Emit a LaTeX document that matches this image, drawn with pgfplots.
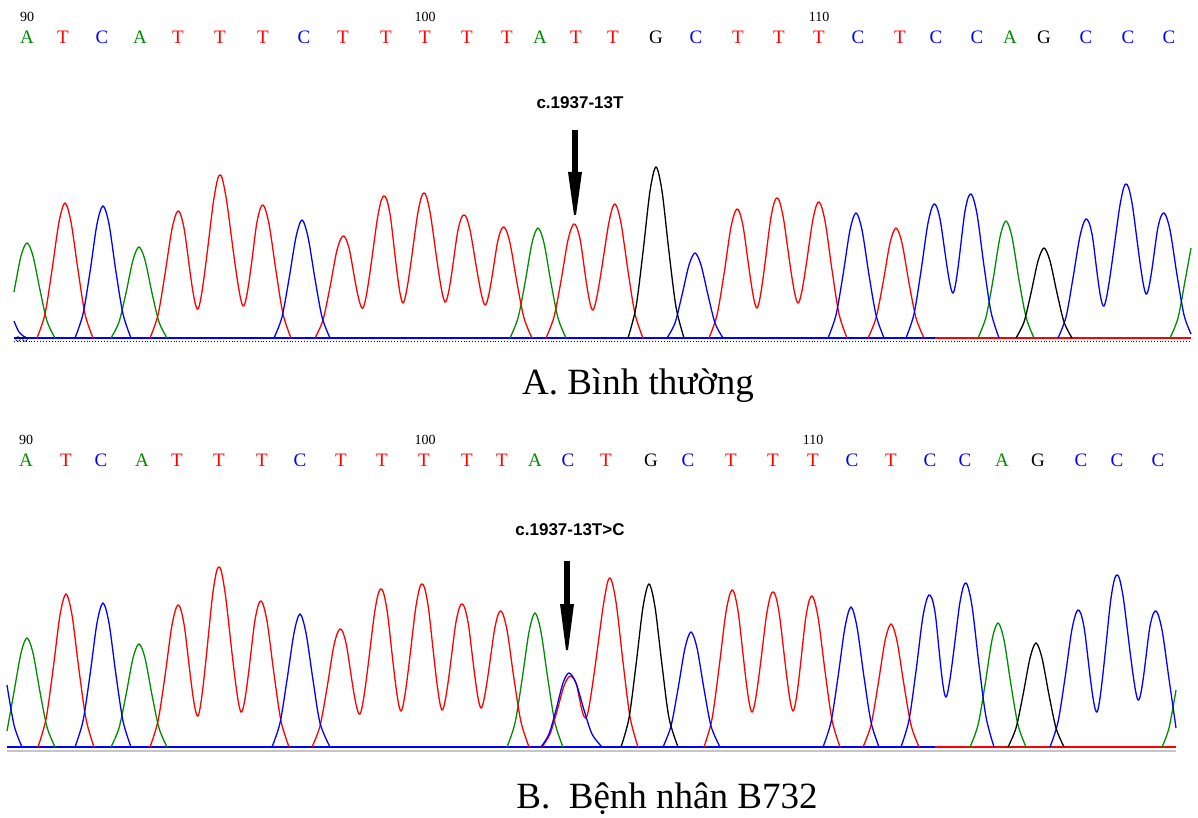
\documentclass[border=0pt]{standalone}
\usepackage{pgfplots}
\pgfplotsset{compat=1.18}
\usepackage{fontspec}
\setmainfont{Liberation Serif}
\newfontfamily\arialf{Liberation Sans}
\definecolor{cR}{RGB}{255,0,0}
\definecolor{cG}{RGB}{0,140,0}
\definecolor{cB}{RGB}{0,0,255}
\definecolor{cK}{RGB}{0,0,0}
\begin{document}
\begin{tikzpicture}
\begin{axis}[
  width=1198pt, height=818pt, scale only axis,
  xmin=0, xmax=1198, ymin=0, ymax=818, y dir=reverse,
  hide axis, clip=false,
  tr/.style={line width=1.3pt, mark=none},
]
\path (axis cs:0,0) rectangle (axis cs:1198,818);
% ---------- baselines (panel A) ----------
\addplot[cB, line width=1.3pt] coordinates {(14,338) (935,338)};
\addplot[cR, line width=1.3pt] coordinates {(935,338) (1191,338)};
\addplot[cB, line width=0.9pt, dotted] coordinates {(14,341) (1191,341)};
\addplot[only marks, mark=o, mark size=2.3pt, black, line width=0.6pt] coordinates {(18,339) (25,339)};
% ---------- panel A traces ----------
% green (A)
\addplot[smooth, tr, cG] coordinates {(14,292) (21,256) (27,243) (33,256) (40,290) (47,321) (55,338)};
\addplot[smooth, tr, cG] coordinates {(111,338) (119,322) (126,293) (133,260) (139,247) (145,260) (152,293) (159,322) (167,338)};
\addplot[smooth, tr, cG] coordinates {(510,338) (518,318) (525,283) (532,243) (538,228) (544,243) (551,283) (558,318) (566,338)};
\addplot[smooth, tr, cG] coordinates {(978,338) (986,317) (993,280) (1000,237) (1006,221) (1012,237) (1019,280) (1026,317) (1034,338)};
\addplot[smooth, tr, cG] coordinates {(1170,338) (1178,318) (1185,281) (1191,248)};
% red (T)
\addplot[smooth, tr, cR] coordinates {(37,338) (45,314) (52,270) (59,222) (65,203) (71,222) (78,270) (85,314) (93,338)};
\addplot[smooth, tr, cR] coordinates {(150,338) (158,315) (165,274) (172,229) (178,211) (184,228) (198,309) (214,198) (220,175) (226,197) (243,306) (257,222) (263,205) (269,224) (276,271) (283,314) (291,338)};
\addplot[smooth, tr, cR] coordinates {(315,338) (323,320) (330,287) (337,250) (343,236) (349,248) (363,308) (378,215) (384,196) (390,214) (403,303) (418,212) (424,193) (430,212) (445,302) (458,230) (464,215) (470,230) (485,305) (498,240) (504,227) (510,243) (517,283) (524,318) (532,338)};
\addplot[smooth, tr, cR] coordinates {(546,338) (554,317) (561,281) (568,240) (574,224) (580,239) (593,310) (609,222) (615,204) (621,223) (628,271) (635,314) (643,338)};
\addplot[smooth, tr, cR] coordinates {(709,338) (717,315) (724,274) (731,227) (737,209) (743,226) (757,308) (771,217) (777,198) (783,216) (798,303) (813,219) (819,202) (825,221) (832,270) (839,314) (847,338)};
\addplot[smooth, tr, cR] coordinates {(868,338) (876,318) (883,283) (890,243) (896,228) (902,243) (909,283) (916,318) (924,338)};
% blue (C)
\addplot[smooth, tr, cB] coordinates {(14,321) (19,332) (26,338)};
\addplot[smooth, tr, cB] coordinates {(75,338) (83,314) (90,272) (97,224) (103,206) (109,224) (116,272) (123,314) (131,338)};
\addplot[smooth, tr, cB] coordinates {(274,338) (282,317) (289,279) (296,237) (302,220) (308,237) (315,279) (322,317) (330,338)};
\addplot[smooth, tr, cB] coordinates {(667,338) (675,323) (682,295) (689,265) (695,253) (701,265) (708,295) (715,323) (723,338)};
\addplot[smooth, tr, cB] coordinates {(828,338) (836,315) (843,275) (850,230) (856,213) (862,230) (869,275) (876,315) (884,338)};
\addplot[smooth, tr, cB] coordinates {(906,338) (914,314) (921,271) (928,223) (934,204) (940,219) (953,293) (965,211) (971,194) (977,214) (984,266) (991,312) (999,338)};
\addplot[smooth, tr, cB] coordinates {(1058,338) (1066,317) (1073,278) (1080,236) (1086,219) (1092,234) (1104,306) (1120,205) (1126,184) (1132,203) (1146,294) (1158,227) (1164,213) (1170,230) (1177,275) (1184,315) (1191,334)};
% black (G)
\addplot[smooth, tr, cK] coordinates {(628,338) (636,307) (643,252) (650,191) (656,167) (662,191) (669,252) (676,307) (684,338)};
\addplot[smooth, tr, cK] coordinates {(1016,338) (1024,322) (1031,293) (1038,261) (1044,248) (1050,261) (1057,293) (1064,322) (1072,338)};

% ---------- baselines (panel B) ----------
\addplot[gray!45, line width=2.4pt] coordinates {(7,751) (1176,751)};
\addplot[cB, line width=1.3pt] coordinates {(7,747) (935,747)};
\addplot[cR, line width=1.3pt] coordinates {(935,747) (1176,747)};
% ---------- panel B traces ----------
% green
\addplot[smooth, tr, cG] coordinates {(7,731) (14,692) (21,653) (27,638) (33,653) (40,692) (47,727) (55,747)};
\addplot[smooth, tr, cG] coordinates {(111,747) (119,728) (126,695) (133,658) (139,644) (145,658) (152,695) (159,728) (167,747)};
\addplot[smooth, tr, cG] coordinates {(507,747) (515,723) (522,680) (529,632) (535,613) (541,632) (548,680) (555,723) (563,747)};
\addplot[smooth, tr, cG] coordinates {(970,747) (978,725) (985,685) (992,640) (998,623) (1004,640) (1011,685) (1018,725) (1026,747)};
\addplot[smooth, tr, cG] coordinates {(1162,747) (1169,728) (1176,690)};
% red
\addplot[smooth, tr, cR] coordinates {(38,747) (46,719) (53,670) (60,615) (66,594) (72,615) (79,670) (86,719) (94,747)};
\addplot[smooth, tr, cR] coordinates {(150,747) (158,721) (165,676) (172,625) (178,605) (184,624) (198,716) (213,592) (219,567) (225,592) (241,712) (255,620) (261,601) (267,621) (274,674) (281,721) (289,747)};
\addplot[smooth, tr, cR] coordinates {(312,747) (320,726) (327,688) (334,645) (340,629) (346,643) (360,714) (375,610) (381,589) (387,610) (401,711) (416,606) (422,584) (428,605) (442,710) (456,622) (462,604) (468,622) (481,708) (495,627) (501,611) (507,630) (514,679) (521,722) (529,747)};
\addplot[smooth, tr, cR] coordinates {(542,747) (550,734) (557,711) (564,686) (570,676) (576,683) (587,716) (604,601) (610,578) (616,602) (623,662) (630,717) (638,747)};
\addplot[smooth, tr, cR] coordinates {(704,747) (712,719) (719,668) (726,612) (732,590) (738,611) (752,712) (767,612) (773,592) (779,612) (793,711) (806,616) (812,596) (818,617) (825,671) (832,720) (840,747)};
\addplot[smooth, tr, cR] coordinates {(863,747) (871,725) (878,685) (885,641) (891,624) (897,641) (904,685) (911,725) (919,747)};
% blue
\addplot[smooth, tr, cB] coordinates {(7,685) (14,725) (22,747)};
\addplot[smooth, tr, cB] coordinates {(75,747) (83,721) (90,675) (97,623) (103,603) (109,623) (116,675) (123,721) (131,747)};
\addplot[smooth, tr, cB] coordinates {(272,747) (280,723) (287,680) (294,633) (300,614) (306,633) (313,680) (320,723) (330,747)};
\addplot[smooth, tr, cB] coordinates {(541,747) (549,734) (556,710) (563,683) (569,673) (576,683) (584,710) (592,734) (602,747)};
\addplot[smooth, tr, cB] coordinates {(663,747) (671,726) (678,689) (685,648) (691,632) (697,648) (704,689) (711,726) (720,747)};
\addplot[smooth, tr, cB] coordinates {(823,747) (831,722) (838,677) (845,627) (851,607) (857,627) (864,677) (871,722) (879,747)};
\addplot[smooth, tr, cB] coordinates {(901,747) (909,720) (916,671) (923,616) (929,595) (935,612) (946,697) (960,602) (966,583) (972,606) (979,665) (986,717) (994,747)};
\addplot[smooth, tr, cB] coordinates {(1050,747) (1058,722) (1065,678) (1072,629) (1078,610) (1084,627) (1097,712) (1111,598) (1117,575) (1123,596) (1138,700) (1150,626) (1156,611) (1162,630) (1169,679) (1176,728)};
% black
\addplot[smooth, tr, cK] coordinates {(621,747) (629,718) (636,665) (643,607) (649,584) (655,607) (662,665) (669,718) (678,747)};
\addplot[smooth, tr, cK] coordinates {(1008,747) (1016,728) (1023,695) (1030,658) (1036,643) (1042,658) (1049,695) (1056,728) (1064,747)};

% ---------- base calls ----------
\foreach \x/\l/\c in {27/A/cG,63/T/cR,102/C/cB,140/A/cG,178/T/cR,220/T/cR,263/T/cR,304/C/cB,343/T/cR,386/T/cR,425/T/cR,467/T/cR,507/T/cR,540/A/cG,576/T/cR,613/T/cR,656/G/cK,696/C/cB,738/T/cR,779/T/cR,819/T/cR,858/C/cB,900/T/cR,936/C/cB,977/C/cB,1010/A/cG,1044/G/cK,1086/C/cB,1128/C/cB,1169/C/cB}{
  \edef\tmp{\noexpand\node[text=\c, font=\noexpand\fontsize{19}{21}\noexpand\selectfont] at (axis cs:\x,37) {\l};}\tmp
}
\foreach \x/\l/\c in {26/A/cG,66/T/cR,101/C/cB,142/A/cG,177/T/cR,219/T/cR,262/T/cR,300/C/cB,341/T/cR,382/T/cR,424/T/cR,467/T/cR,502/T/cR,535/A/cG,568/C/cB,606/T/cR,651/G/cK,688/C/cB,731/T/cR,773/T/cR,813/T/cR,852/C/cB,891/T/cR,930/C/cB,965/C/cB,1002/A/cG,1038/G/cK,1081/C/cB,1117/C/cB,1158/C/cB}{
  \edef\tmp{\noexpand\node[text=\c, font=\noexpand\fontsize{19}{21}\noexpand\selectfont] at (axis cs:\x,460) {\l};}\tmp
}
% position numbers
\node[font=\fontsize{14}{16}\selectfont] at (axis cs:27,17) {90};
\node[font=\fontsize{14}{16}\selectfont] at (axis cs:425,17) {100};
\node[font=\fontsize{14}{16}\selectfont] at (axis cs:819,17) {110};
\node[font=\fontsize{14}{16}\selectfont] at (axis cs:26,440) {90};
\node[font=\fontsize{14}{16}\selectfont] at (axis cs:425,440) {100};
\node[font=\fontsize{14}{16}\selectfont] at (axis cs:813,440) {110};

% annotations
\node[font=\arialf\bfseries\fontsize{17}{19}\selectfont] at (axis cs:580,103) {c.1937-13T};
\draw[line width=6.5pt] (axis cs:575,130) -- (axis cs:575,176);
\fill (axis cs:568,172) -- (axis cs:582,172) -- (axis cs:576,215) -- (axis cs:574,215) -- cycle;
\node[font=\arialf\bfseries\fontsize{17}{19}\selectfont] at (axis cs:570,530) {c.1937-13T>C};
\draw[line width=6.5pt] (axis cs:567,561) -- (axis cs:567,608);
\fill (axis cs:560,604) -- (axis cs:574,604) -- (axis cs:568,650) -- (axis cs:566,650) -- cycle;

% titles
\node[anchor=base, font=\fontsize{37}{40}\selectfont] at (axis cs:638,394) {A. Bình thường};
\node[anchor=base, font=\fontsize{37}{40}\selectfont] at (axis cs:667,808) {B.\ \ Bệnh nhân B732};
\end{axis}
\end{tikzpicture}
\end{document}
